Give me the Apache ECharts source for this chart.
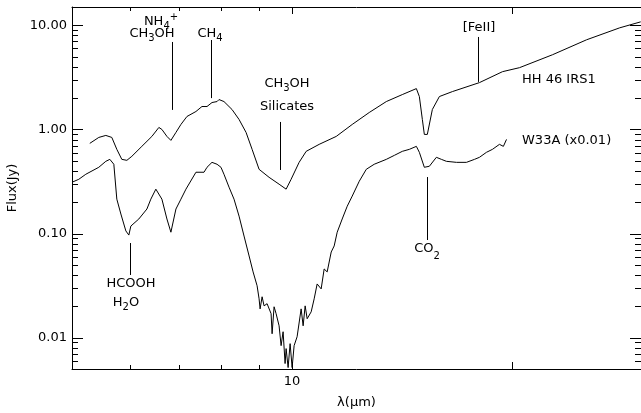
<!DOCTYPE html>
<html><head><meta charset="utf-8">
<script src="https://cdn.jsdelivr.net/npm/echarts@6/dist/echarts.min.js"></script>
<style>html,body{margin:0;padding:0;background:#fff}#c{width:641px;height:413px}</style>
</head><body><div id="c"></div>
<script>
// ---- data ----
const hh46Lambda = [5.288,5.440,5.562,5.668,5.758,5.849,5.943,6.037,6.230,6.430,6.573,6.636,6.742,6.827,6.936,7.046,7.181,7.387,7.528,7.649,7.770,7.895,7.943,8.069,8.276,8.461,8.650,8.816,9.012,9.300,9.598,9.813,9.968,10.223,10.452,10.889,11.490,12.084,12.749,13.453,14.147,14.788,14.928,15.070,15.164,15.308,15.552,15.900,16.565,18.039,19.396,20.464,22.709,25.275,28.055,29.971];
const hh46Flux   = [0.735,0.838,0.876,0.838,0.644,0.516,0.505,0.552,0.688,0.857,1.045,1.000,0.857,0.785,0.936,1.117,1.332,1.487,1.660,1.660,1.813,1.853,1.937,1.853,1.554,1.247,0.936,0.644,0.414,0.347,0.298,0.267,0.332,0.483,0.616,0.719,0.857,1.117,1.455,1.853,2.162,2.468,2.070,1.247,0.896,0.896,1.554,2.070,2.310,2.818,3.589,3.921,5.221,7.264,9.465,10.80];

const w33aLambda = [5.00,5.108,5.222,5.440,5.562,5.633,5.704,5.758,5.832,5.924,5.980,6.018,6.171,6.330,6.409,6.511,6.636,6.742,6.827,6.936,7.046,7.158,7.387,7.577,7.649,7.770,7.895,7.993,8.069,8.198,8.328,8.461,8.595,8.733,8.844,8.956,9.012,9.041,9.098,9.155,9.242,9.359,9.389,9.448,9.508,9.598,9.659,9.720,9.781,9.813,9.875,9.937,10.000,10.063,10.158,10.288,10.353,10.419,10.485,10.618,10.719,10.820,10.958,11.062,11.167,11.310,11.416,11.525,11.708,11.895,12.084,12.354,12.630,12.950,13.453,13.80,14.147,14.465,14.788,14.928,15.164,15.406,15.750,16.00,16.255,16.78,17.313,17.76,18.039,18.44,18.793,19.21,19.45,19.642];
const w33aFlux   = [0.311,0.332,0.371,0.433,0.494,0.516,0.463,0.214,0.154,0.106,0.0967,0.118,0.138,0.172,0.214,0.267,0.214,0.138,0.103,0.172,0.214,0.267,0.388,0.388,0.433,0.483,0.463,0.433,0.371,0.279,0.214,0.147,0.0946,0.0609,0.0428,0.0315,0.0236,0.0189,0.0247,0.0202,0.0212,0.0170,0.0109,0.0198,0.0170,0.0130,0.00838,0.0114,0.00564,0.00785,0.00516,0.00876,0.00516,0.00838,0.0102,0.0189,0.0130,0.0202,0.0152,0.0177,0.0236,0.0328,0.0294,0.0457,0.0428,0.0665,0.0760,0.103,0.138,0.183,0.229,0.318,0.414,0.463,0.516,0.564,0.616,0.644,0.688,0.603,0.433,0.443,0.540,0.516,0.494,0.483,0.483,0.516,0.540,0.603,0.644,0.719,0.688,0.802];

const xRange = [5, 30];
const yRange = [0.005, 15];
const xLabelValues = [10];
const xMajorTicks = [10, 20];
const xMinorTicks = [6, 7, 8, 9];
const yMajorTicks = [0.01, 0.1, 1, 10];
const yMinorTicks = [0.006,0.007,0.008,0.009,0.02,0.03,0.04,0.05,0.06,0.07,0.08,0.09,0.2,0.3,0.4,0.5,0.6,0.7,0.8,0.9,2,3,4,5,6,7,8,9];

// feature marker lines: wavelength, flux from, flux to
const featureLambda = [6.86, 7.74, 9.64, 17.97, 15.28, 6.01];
const featureFrom   = [6.92, 7.23, 1.18, 7.73, 0.349, 0.0811];
const featureTo     = [1.54, 2.00, 0.408, 2.86, 0.0867, 0.0400];

// ---- chart ----
const FONT = "'DejaVu Sans', sans-serif";
const chart = echarts.init(document.getElementById('c'), null, {renderer: 'canvas'});

function crisp(v) { return Math.round(v) + 0.5; }

function yTickRender(params, api) {
  const v = api.value(1), major = api.value(2);
  const pl = api.coord([xRange[0], v]);
  const pr = api.coord([xRange[1], v]);
  const len = major ? 11 : 6;
  const y = crisp(pl[1]);
  return {type: 'group', children: [
    {type: 'line', shape: {x1: pl[0], y1: y, x2: pl[0] + len, y2: y}, style: {stroke: '#000', lineWidth: 1}},
    {type: 'line', shape: {x1: pr[0], y1: y, x2: pr[0] - len, y2: y}, style: {stroke: '#000', lineWidth: 1}}
  ]};
}
function xTickRender(params, api) {
  const v = api.value(0), major = api.value(2);
  const pb = api.coord([v, yRange[0]]);
  const pt = api.coord([v, yRange[1]]);
  const len = major ? 7 : 4;
  const x = crisp(pb[0]);
  return {type: 'group', children: [
    {type: 'line', shape: {x1: x, y1: pb[1], x2: x, y2: pb[1] - len}, style: {stroke: '#000', lineWidth: 1}},
    {type: 'line', shape: {x1: x, y1: pt[1], x2: x, y2: pt[1] + len}, style: {stroke: '#000', lineWidth: 1}}
  ]};
}

const yTickData = yMajorTicks.map(v => [xRange[0], v, 1]).concat(yMinorTicks.map(v => [xRange[0], v, 0]));
const xTickData = xMajorTicks.map(v => [v, yRange[0], 1]).concat(xMinorTicks.map(v => [v, yRange[0], 0]));

const axisCommon = {
  type: 'log', logBase: 10,
  axisLine: {show: true, lineStyle: {color: '#000', width: 1}},
  axisTick: {show: false},
  splitLine: {show: false},
  minorTick: {show: false}
};

const RICH = {
  n:  {fontFamily: FONT, fontSize: 13, color: '#000', lineHeight: 13, verticalAlign: 'middle'},
  s:  {fontFamily: FONT, fontSize: 10, color: '#000', lineHeight: 19, verticalAlign: 'bottom'},
  s2: {fontFamily: FONT, fontSize: 10, color: '#000', lineHeight: 25, verticalAlign: 'bottom'},
  p:  {fontFamily: FONT, fontSize: 10, color: '#000', lineHeight: 19, verticalAlign: 'top'}
};

function txt(text, x, y, align) {
  return {type: 'text', x: x, y: y, silent: true,
    style: {text: text, rich: RICH, font: "13px " + FONT, fill: '#000',
      align: align || 'center', verticalAlign: 'middle',
      textAlign: align || 'center', textVerticalAlign: 'middle'}};
}

const option = {
  animation: false,
  backgroundColor: '#fff',
  grid: {left: 72, top: 7, width: 569, height: 362, containLabel: false, outerBoundsMode: 'none'},
  xAxis: [
    Object.assign({}, axisCommon, {
      min: xRange[0], max: xRange[1], position: 'bottom',
      axisLabel: {show: true, showMinLabel: false, showMaxLabel: false, margin: 6,
        color: '#000', fontFamily: FONT, fontSize: 13,
        formatter: v => (xLabelValues.some(t => Math.abs(t - v) < 1e-6) ? String(Math.round(v)) : '')},
      name: 'λ(μm)', nameLocation: 'middle', nameGap: 27,
      nameTextStyle: {color: '#000', fontFamily: FONT, fontSize: 13}
    }),
    Object.assign({}, axisCommon, {min: xRange[0], max: xRange[1], position: 'top', axisLabel: {show: false}})
  ],
  yAxis: [
    Object.assign({}, axisCommon, {
      min: yRange[0], max: yRange[1], position: 'left',
      axisLabel: {show: true, showMinLabel: false, showMaxLabel: false, margin: 5,
        color: '#000', fontFamily: FONT, fontSize: 13,
        formatter: v => Number(v).toFixed(2)},
      name: 'Flux(Jy)', nameLocation: 'middle', nameGap: 52, nameRotate: 90,
      nameTextStyle: {color: '#000', fontFamily: FONT, fontSize: 13}
    }),
    Object.assign({}, axisCommon, {min: yRange[0], max: yRange[1], position: 'right', axisLabel: {show: false}})
  ],
  series: [
    {
      name: 'HH 46 IRS1', type: 'line', xAxisIndex: 0, yAxisIndex: 0,
      data: hh46Lambda.map((l, i) => [l, hh46Flux[i]]),
      showSymbol: false, symbol: 'none', silent: true,
      lineStyle: {color: '#000', width: 1},
      markLine: {
        silent: true, symbol: ['none', 'none'], label: {show: false},
        lineStyle: {color: '#000', width: 1, type: 'solid'},
        data: featureLambda.map((l, i) => [{coord: [l, featureFrom[i]]}, {coord: [l, featureTo[i]]}])
      }
    },
    {
      name: 'W33A (x0.01)', type: 'line', xAxisIndex: 0, yAxisIndex: 0,
      data: w33aLambda.map((l, i) => [l, w33aFlux[i]]),
      showSymbol: false, symbol: 'none', silent: true,
      lineStyle: {color: '#000', width: 1}
    },
    {type: 'custom', silent: true, renderItem: yTickRender, data: yTickData, encode: {x: 0, y: 1}, z: 5},
    {type: 'custom', silent: true, renderItem: xTickRender, data: xTickData, encode: {x: 0, y: 1}, z: 5}
  ],
  graphic: [
    txt('{n|NH}{s|4}{p|+}', 161, 22),
    txt('{n|CH}{s|3}{n|OH}', 152, 34),
    txt('{n|CH}{s|4}', 210, 34),
    txt('{n|CH}{s|3}{n|OH}', 287, 84),
    txt('{n|Silicates}', 287, 107),
    txt('{n|[FeII]}', 479, 28),
    txt('{n|HH 46 IRS1}', 522, 80, 'left'),
    txt('{n|W33A (x0.01)}', 522, 141, 'left'),
    txt('{n|CO}{s2|2}', 427, 249),
    txt('{n|HCOOH}', 131, 284),
    txt('{n|H}{s|2}{n|O}', 126, 303)
  ]
};
chart.setOption(option);
</script></body></html>
